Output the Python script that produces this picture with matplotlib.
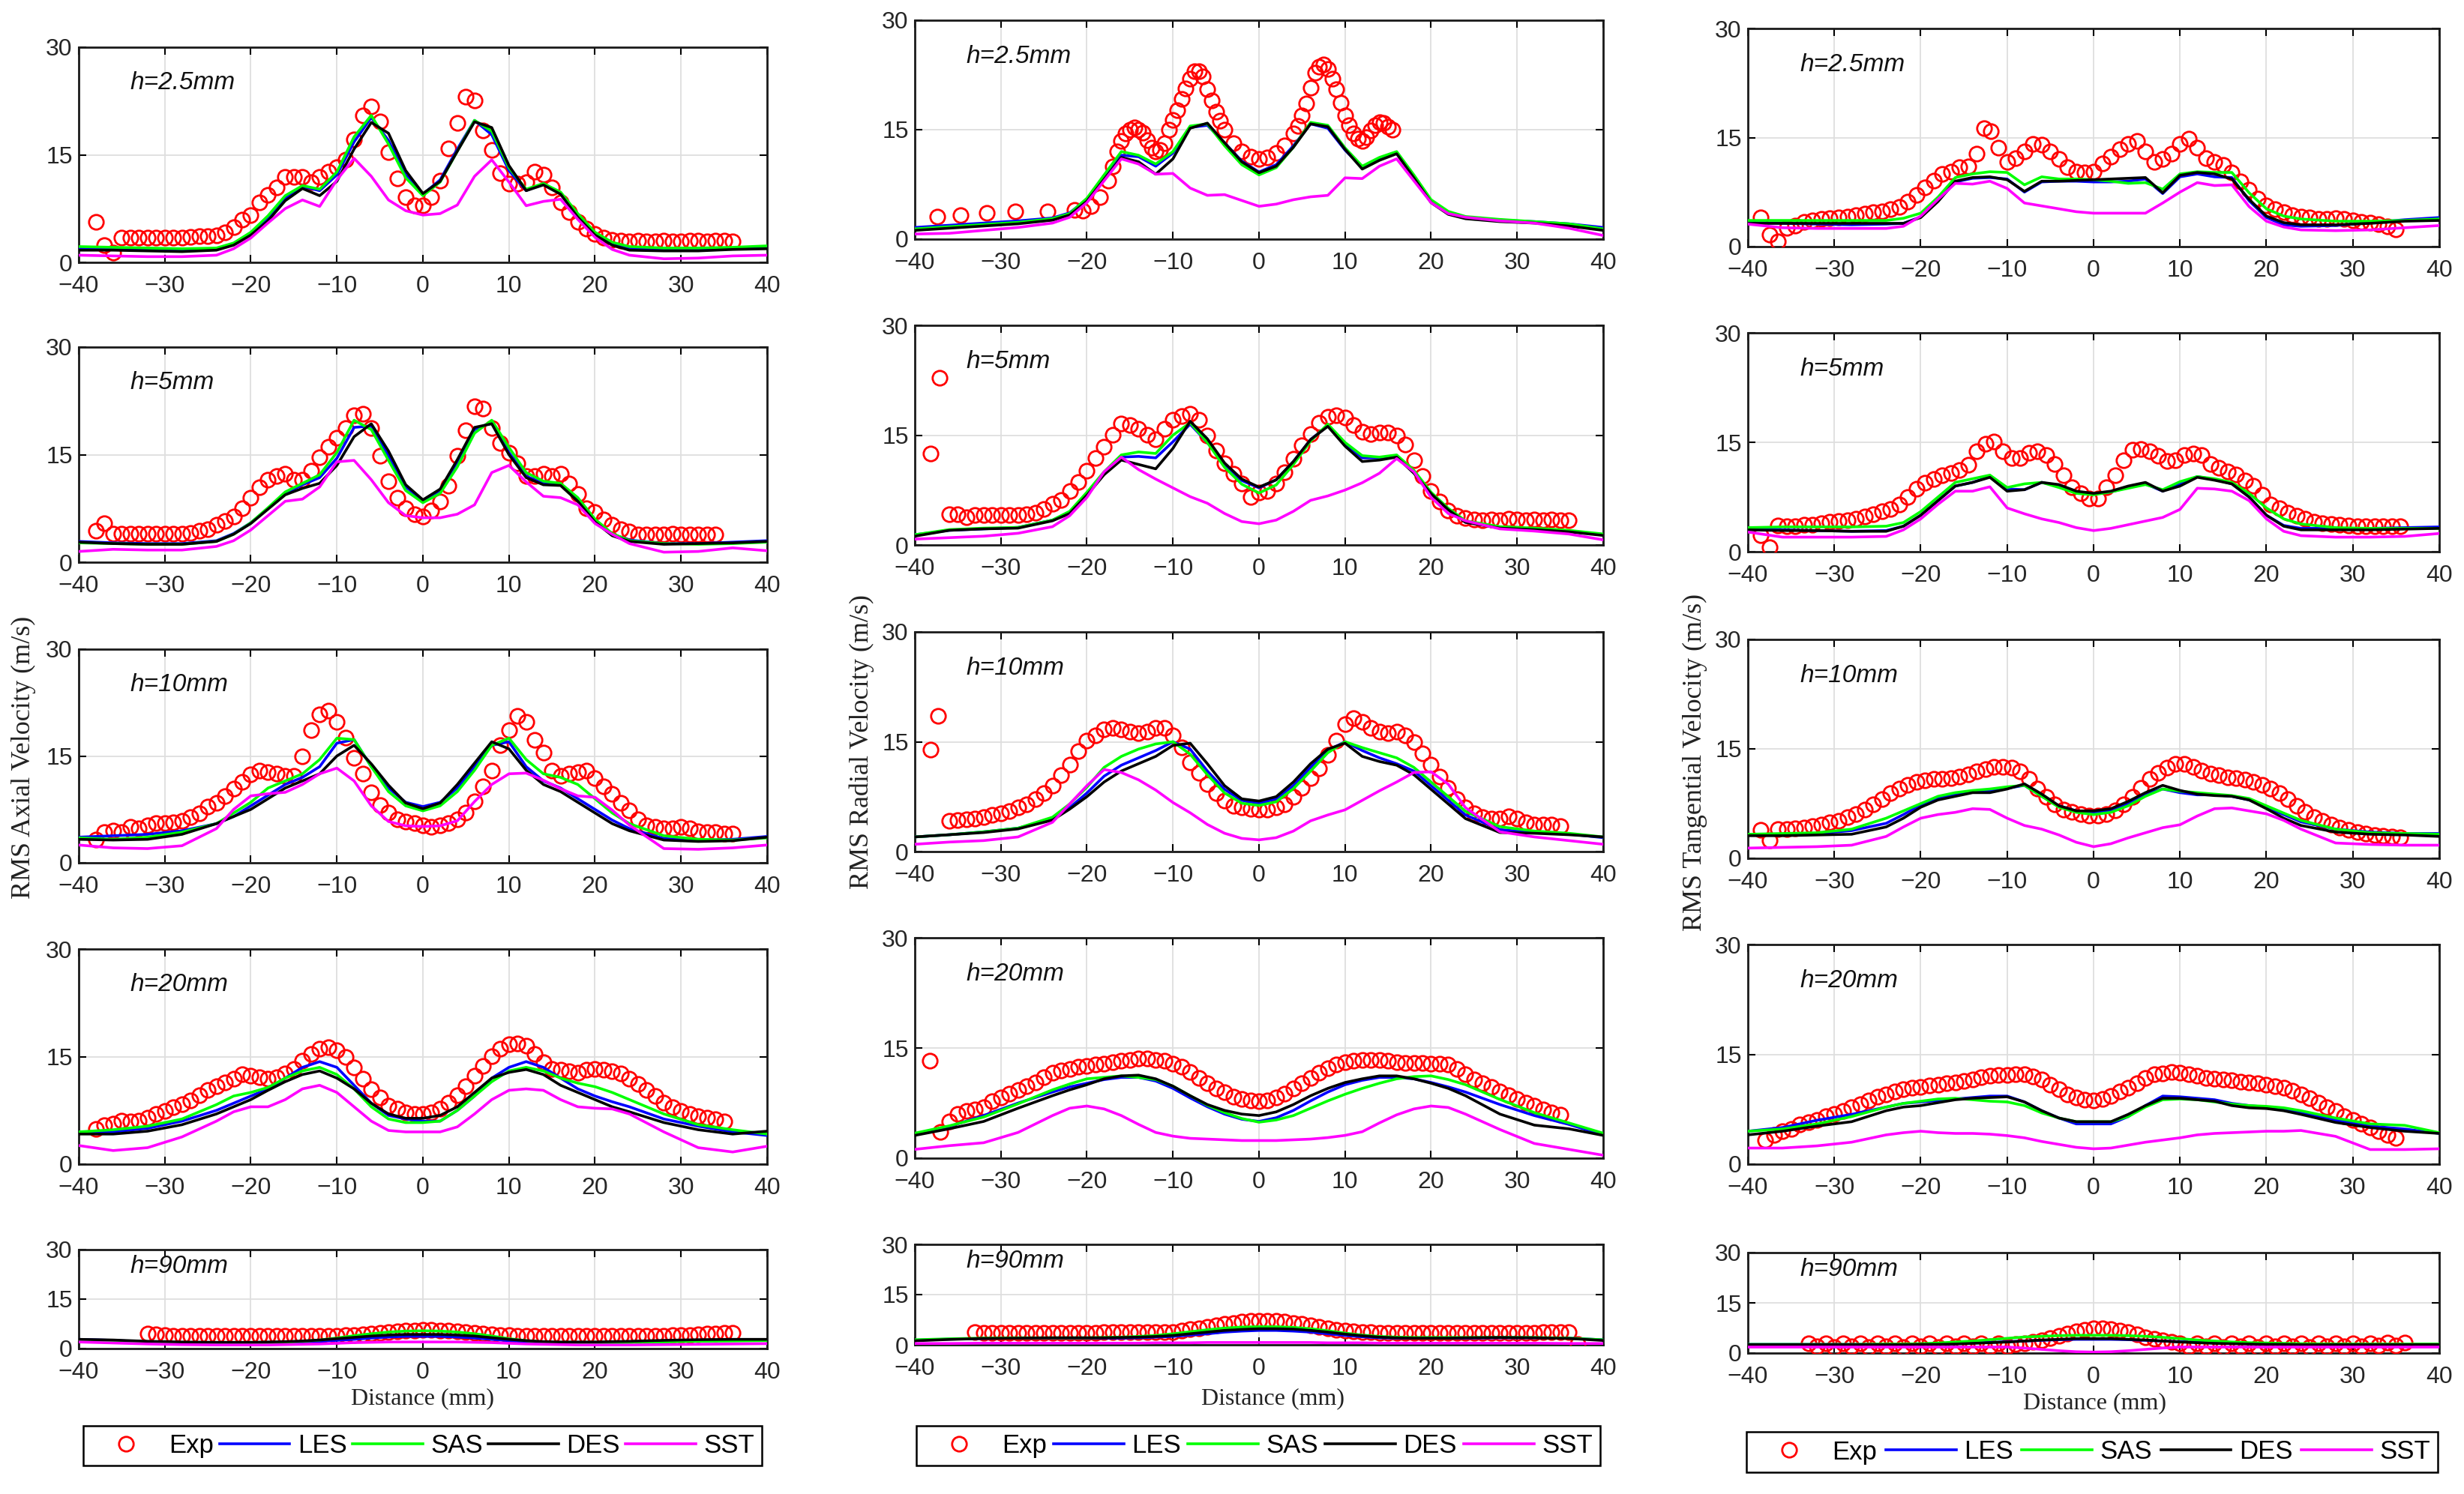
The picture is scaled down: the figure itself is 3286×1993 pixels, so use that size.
import numpy as np
import matplotlib
matplotlib.use('Agg')
import matplotlib.pyplot as plt
from matplotlib.lines import Line2D

plt.rcParams['font.family'] = ['Liberation Sans Narrow', 'Liberation Sans', 'DejaVu Sans']
SERIF = ['Liberation Serif', 'DejaVu Serif']

# x positions of the simulation curves (mm)
x_sim = [-40, -36, -32, -28, -24, -22, -20, -18, -16, -14, -12, -10, -8, -6, -4, -2, 0,
         2, 4, 6, 8, 10, 12, 14, 16, 18, 20, 22, 24, 28, 32, 36, 40]

# ---------------- RMS axial velocity ----------------
ax25_exp_x = np.arange(-38, 37)
ax25_exp = [5.6, 2.4, 1.4, 3.4, 3.5, 3.5, 3.5, 3.5, 3.5, 3.5,
            3.5, 3.6, 3.7, 3.7, 3.8, 4.2, 4.9, 6.0, 6.6, 8.4,
            9.4, 10.5, 11.9, 11.9, 11.9, 11.2, 11.9, 12.6, 13.3, 14.3,
            17.1, 20.5, 21.7, 19.6, 15.4, 11.7, 9.1, 7.9, 7.9, 9.1,
            11.4, 15.9, 19.4, 23.1, 22.6, 18.4, 15.7, 12.4, 11.0, 11.0,
            11.2, 12.6, 12.2, 10.5, 8.4, 7.0, 5.6, 4.7, 4.0, 3.5,
            3.1, 3.0, 2.9, 3.0, 2.9, 2.9, 3.0, 2.9, 2.9, 3.0,
            3.0, 2.9, 3.0, 3.0, 2.9]
ax25_les = [2.0, 1.9, 1.8, 1.7, 1.9, 2.6, 4.0, 6.2, 9.0, 10.6, 10.0, 12.2, 16.8, 20.2, 17.0, 12.2, 9.5,
            11.5, 15.8, 19.8, 17.8, 12.8, 10.0, 11.0, 9.6, 6.5, 4.0, 2.6, 2.0, 1.8, 1.9, 2.0, 2.2]
ax25_sas = [2.2, 2.1, 2.0, 1.9, 2.0, 2.7, 4.2, 6.5, 9.3, 10.7, 10.2, 12.6, 17.5, 20.5, 16.5, 11.8, 9.3,
            11.2, 15.5, 19.8, 18.3, 13.2, 10.2, 11.0, 9.8, 6.8, 4.2, 2.8, 2.2, 2.0, 2.0, 2.1, 2.3]
ax25_des = [1.7, 1.7, 1.6, 1.5, 1.7, 2.4, 3.8, 5.8, 8.6, 10.3, 9.3, 11.3, 15.8, 19.5, 18.0, 12.8, 9.6,
            11.3, 15.5, 19.6, 18.8, 13.5, 10.0, 10.8, 9.5, 6.3, 3.8, 2.4, 1.7, 1.6, 1.6, 1.8, 1.9]
ax25_sst = [1.0, 0.9, 0.8, 0.8, 1.0, 1.9, 3.4, 5.5, 7.5, 8.7, 7.8, 11.5, 14.5, 12.0, 8.7, 7.2, 6.6,
            6.8, 8.0, 12.0, 14.3, 11.2, 7.9, 8.5, 8.8, 6.0, 3.5, 1.8, 1.0, 0.5, 0.6, 0.9, 1.0]

ax5_exp_x = np.arange(-38, 35)
ax5_exp = [4.4, 5.4, 4.0, 4.0, 4.0, 4.0, 4.0, 4.0, 4.0, 4.0,
           4.0, 4.1, 4.4, 4.6, 5.2, 5.7, 6.4, 7.5, 9.0, 10.5,
           11.5, 12.0, 12.3, 11.5, 11.5, 12.8, 14.6, 16.1, 17.4, 18.7,
           20.5, 20.7, 18.7, 14.8, 11.3, 9.0, 7.5, 6.7, 6.4, 7.2,
           8.5, 10.7, 14.8, 18.4, 21.7, 21.4, 18.7, 16.6, 15.3, 13.8,
           12.0, 12.0, 12.3, 12.0, 12.3, 11.0, 9.5, 7.5, 7.0, 6.0,
           5.2, 4.6, 4.3, 3.9, 3.9, 3.9, 3.9, 4.0, 3.9, 3.9,
           3.9, 3.9, 3.9]
ax5_les = [2.9, 2.7, 2.6, 2.6, 3.0, 4.0, 5.5, 7.5, 9.6, 10.8, 11.8, 14.5, 18.8, 19.0, 14.8, 10.5, 8.6,
           10.0, 14.0, 18.5, 19.5, 15.3, 12.0, 11.0, 10.8, 8.8, 5.8, 3.9, 3.1, 2.6, 2.6, 2.8, 3.0]
ax5_sas = [2.7, 2.6, 2.5, 2.5, 2.9, 3.9, 5.5, 7.6, 9.8, 11.0, 12.2, 15.3, 19.8, 18.5, 14.2, 10.0, 8.3,
           9.6, 13.3, 18.0, 19.8, 16.0, 12.5, 11.3, 11.0, 9.0, 6.0, 4.0, 3.0, 2.6, 2.5, 2.6, 2.8]
ax5_des = [2.8, 2.6, 2.5, 2.5, 2.9, 3.9, 5.4, 7.4, 9.4, 10.3, 11.0, 13.5, 17.5, 19.3, 15.5, 10.8, 8.7,
           10.2, 14.3, 18.8, 19.3, 15.0, 11.8, 10.8, 10.7, 8.5, 5.6, 3.7, 2.9, 2.5, 2.6, 2.7, 2.9]
ax5_sst = [1.5, 1.8, 1.7, 1.7, 2.2, 3.0, 4.5, 6.5, 8.5, 8.8, 10.5, 14.0, 14.2, 11.5, 8.3, 6.5, 6.2,
           6.2, 6.7, 8.0, 12.5, 13.5, 11.2, 9.2, 9.0, 8.0, 5.4, 3.9, 2.6, 1.4, 1.5, 2.0, 1.6]

ax10_exp_x = np.arange(-38, 37)
ax10_exp = [3.3, 4.3, 4.5, 4.3, 5.1, 4.8, 5.3, 5.6, 5.6, 5.7,
            5.9, 6.4, 6.9, 7.9, 8.4, 9.4, 10.4, 11.4, 12.4, 12.9,
            12.7, 12.5, 12.2, 12.2, 15.0, 18.6, 20.8, 21.4, 19.8, 17.6,
            14.7, 12.5, 9.9, 8.1, 7.1, 6.1, 5.8, 5.6, 5.3, 5.1,
            5.3, 5.6, 6.1, 7.1, 8.6, 10.7, 12.9, 16.5, 18.6, 20.6,
            19.8, 17.3, 15.5, 12.9, 12.2, 12.5, 12.7, 12.9, 11.9, 10.7,
            9.7, 8.4, 7.4, 6.1, 5.3, 5.1, 4.8, 4.8, 5.1, 4.8,
            4.4, 4.3, 4.3, 4.1, 4.1]
ax10_les = [3.6, 3.8, 4.0, 4.5, 5.5, 6.5, 8.0, 9.5, 11.0, 12.0, 13.5, 16.8, 17.3, 13.5, 10.5, 8.5, 7.9,
            8.5, 10.5, 13.5, 16.5, 17.0, 13.5, 11.5, 10.5, 9.0, 7.5, 6.0, 4.8, 3.4, 3.2, 3.3, 3.7]
ax10_sas = [3.5, 3.3, 3.6, 4.3, 5.5, 7.0, 8.5, 10.5, 11.5, 12.5, 14.5, 17.5, 17.3, 13.5, 10.0, 8.0, 7.3,
            8.0, 10.0, 13.0, 16.5, 17.5, 14.5, 12.5, 12.0, 11.0, 9.0, 7.0, 5.5, 3.8, 3.3, 3.2, 3.5]
ax10_des = [3.3, 3.2, 3.3, 4.0, 5.5, 6.5, 7.5, 9.0, 10.5, 11.5, 12.5, 15.0, 16.5, 13.9, 10.9, 8.4, 7.6,
            8.4, 11.0, 14.0, 17.0, 16.0, 13.0, 11.0, 10.0, 8.5, 7.0, 5.5, 4.5, 3.2, 3.0, 3.1, 3.6]
ax10_sst = [2.5, 2.1, 2.0, 2.4, 4.8, 7.5, 9.4, 9.7, 9.9, 11.0, 12.5, 13.3, 11.5, 8.0, 5.8, 5.2, 5.1,
            5.2, 5.9, 8.6, 11.0, 12.5, 12.6, 11.6, 10.4, 9.4, 9.2, 7.4, 5.3, 2.0, 1.9, 2.1, 2.5]

ax20_exp_x = np.arange(-38, 36)
ax20_exp = [4.9, 5.4, 5.6, 6.1, 6.0, 6.1, 6.5, 7.0, 7.4, 7.9,
            8.4, 8.9, 9.6, 10.4, 10.9, 11.4, 11.9, 12.5, 12.3, 12.1,
            11.9, 12.1, 12.6, 13.3, 14.4, 15.4, 16.1, 16.3, 15.9, 14.9,
            13.5, 11.9, 10.5, 9.3, 8.2, 7.7, 7.2, 7.0, 7.0, 7.2,
            7.7, 8.6, 9.6, 10.9, 12.3, 13.7, 15.1, 16.1, 16.7, 16.8,
            16.5, 15.4, 14.2, 13.3, 13.2, 13.0, 12.8, 13.2, 13.3, 13.2,
            13.0, 12.6, 11.9, 11.2, 10.4, 9.5, 8.6, 7.9, 7.4, 7.0,
            6.7, 6.5, 6.3, 6.0]
ax20_les = [4.5, 4.5, 5.0, 6.0, 7.5, 8.5, 9.5, 10.5, 12.0, 13.5, 14.3, 13.5, 11.0, 8.5, 6.8, 6.3, 6.0,
            6.0, 7.5, 9.5, 12.0, 13.5, 14.3, 13.5, 12.0, 10.5, 9.5, 8.7, 8.0, 6.3, 5.3, 4.5, 4.0]
ax20_sas = [4.5, 4.8, 5.3, 6.3, 8.3, 9.5, 10.0, 10.7, 12.0, 13.0, 13.5, 12.5, 10.5, 8.0, 6.3, 5.8, 5.8,
            6.0, 7.5, 9.5, 11.5, 13.0, 13.5, 13.0, 12.0, 11.3, 10.8, 10.0, 9.0, 7.0, 5.5, 4.8, 4.2]
ax20_des = [4.2, 4.2, 4.6, 5.5, 7.0, 8.0, 9.0, 10.3, 11.5, 12.5, 13.0, 12.0, 10.5, 8.5, 7.0, 6.4, 6.4,
            6.8, 8.0, 10.0, 12.0, 12.8, 13.2, 12.5, 11.0, 10.0, 9.0, 8.0, 7.3, 5.8, 4.8, 4.2, 4.6]
ax20_sst = [2.6, 1.9, 2.3, 3.8, 6.0, 7.3, 8.0, 8.0, 9.0, 10.5, 11.0, 10.0, 8.0, 6.0, 4.7, 4.5, 4.5,
            4.5, 5.2, 7.0, 9.0, 10.3, 10.5, 10.3, 9.0, 8.0, 7.8, 7.7, 7.0, 4.5, 2.3, 1.7, 2.5]

ax90_exp_x = np.arange(-32, 37)
ax90_exp = [4.5, 4.3, 4.0, 3.8, 3.8, 3.8, 3.8, 3.8, 3.8, 3.8,
            3.8, 3.8, 3.8, 3.8, 3.8, 3.8, 3.8, 3.8, 3.8, 3.8,
            3.8, 3.8, 3.9, 4.0, 4.2, 4.3, 4.5, 4.8, 5.0, 5.2,
            5.4, 5.5, 5.6, 5.6, 5.5, 5.4, 5.2, 5.0, 4.8, 4.5,
            4.3, 4.1, 4.0, 3.8, 3.8, 3.8, 3.8, 3.8, 3.8, 3.8,
            3.8, 3.8, 3.8, 3.8, 3.8, 3.8, 3.8, 3.8, 3.8, 3.8,
            3.9, 4.0, 4.1, 4.2, 4.3, 4.5, 4.6, 4.7, 4.7]
ax90_les = [2.8, 2.5, 2.0, 1.8, 1.7, 1.7, 1.7, 1.8, 1.9, 2.0, 2.2, 2.5, 2.8, 3.2, 3.5, 3.7, 3.7,
            3.7, 3.5, 3.2, 2.8, 2.4, 2.1, 1.9, 1.8, 1.8, 1.8, 1.9, 2.0, 2.2, 2.4, 2.5, 2.5]
ax90_sas = [2.6, 2.4, 2.1, 1.8, 1.6, 1.6, 1.6, 1.7, 1.9, 2.2, 2.6, 3.2, 3.9, 4.5, 5.0, 5.3, 5.4,
            5.3, 5.0, 4.5, 3.8, 3.0, 2.4, 2.0, 1.7, 1.6, 1.6, 1.7, 1.8, 2.0, 2.2, 2.3, 2.4]
ax90_des = [2.8, 2.6, 2.2, 2.0, 1.9, 1.9, 1.9, 2.0, 2.1, 2.3, 2.6, 3.0, 3.4, 3.8, 4.1, 4.3, 4.3,
            4.3, 4.1, 3.8, 3.3, 2.8, 2.4, 2.1, 2.0, 2.0, 2.0, 2.1, 2.2, 2.5, 2.7, 2.8, 2.8]
ax90_sst = [2.0, 1.7, 1.4, 1.2, 1.1, 1.1, 1.1, 1.1, 1.2, 1.3, 1.4, 1.6, 1.8, 1.9, 2.0, 2.0, 2.0,
            2.0, 2.0, 1.9, 1.8, 1.6, 1.4, 1.3, 1.2, 1.1, 1.1, 1.1, 1.1, 1.2, 1.3, 1.4, 1.5]

# ---------------- RMS radial velocity ----------------
ra25_exp_x = [-37.4, -34.7, -31.6, -28.3, -24.6, -21.4, -20.5, -19.5, -18.5, -17.5,
              -17, -16.5, -16, -15.5, -15, -14.5, -14, -13.5, -13, -12.5,
              -12, -11.5, -11, -10.5, -10, -9.5, -9, -8.5, -8, -7.5,
              -7, -6.5, -6, -5.5, -5, -4.5, -4, -3, -2, -1,
              0, 1, 2, 3, 4, 4.5, 5, 5.5, 6, 6.5,
              7, 7.5, 8, 8.5, 9, 9.5, 10, 10.5, 11, 11.5,
              12, 12.5, 13, 13.5, 14, 14.5, 15, 15.5]
ra25_exp = [3.1, 3.3, 3.6, 3.8, 3.8, 4.0, 3.9, 4.5, 5.8, 8.0,
            10.0, 12.0, 13.5, 14.5, 15.0, 15.3, 15.0, 14.6, 13.6, 12.5,
            12.0, 12.2, 13.2, 15.0, 16.3, 17.7, 19.2, 20.7, 22.0, 23.0,
            23.0, 22.3, 20.5, 19.0, 17.5, 16.2, 15.0, 13.2, 12.0, 11.3,
            11.0, 11.2, 11.8, 12.8, 14.5, 15.5, 17.0, 18.6, 20.8, 22.8,
            23.6, 23.9, 23.3, 22.0, 20.5, 18.7, 17.0, 15.6, 14.5, 13.8,
            13.5, 14.0, 14.9, 15.6, 16.0, 15.9, 15.4, 15.0]
ra25_les = [1.6, 1.9, 2.2, 2.5, 2.9, 3.6, 5.5, 8.5, 11.5, 11.3, 10.0, 11.8, 15.3, 15.6, 13.2, 10.7, 9.2,
            10.2, 12.8, 15.8, 15.2, 12.2, 9.8, 11.0, 11.8, 8.6, 5.2, 3.6, 3.0, 2.6, 2.4, 2.1, 1.6]
ra25_sas = [1.4, 1.7, 2.0, 2.3, 2.8, 3.5, 5.6, 8.8, 12.0, 11.5, 10.3, 12.0, 15.5, 15.8, 12.8, 10.2, 8.8,
            9.8, 12.6, 16.0, 15.6, 12.5, 10.0, 11.2, 12.0, 8.8, 5.4, 3.8, 3.1, 2.7, 2.4, 2.1, 1.4]
ra25_des = [1.2, 1.5, 1.8, 2.1, 2.6, 3.3, 5.2, 8.2, 11.2, 10.6, 8.9, 11.0, 15.2, 15.9, 13.2, 10.6, 9.1,
            10.0, 12.6, 15.8, 15.4, 12.3, 9.6, 10.8, 11.7, 8.4, 5.0, 3.4, 2.8, 2.4, 2.2, 1.8, 1.2]
ra25_sst = [0.7, 0.8, 1.2, 1.6, 2.2, 3.0, 5.0, 8.0, 11.0, 10.3, 8.9, 9.0, 7.0, 6.0, 6.1, 5.3, 4.5,
            4.8, 5.4, 5.8, 6.0, 8.4, 8.3, 10.0, 11.0, 8.0, 5.0, 3.5, 3.0, 2.5, 2.2, 1.5, 0.5]

ra5_exp_x = [-38.2, -37.1] + list(range(-36, 37))
ra5_exp = [12.5, 22.8,
           4.2, 4.2, 3.8, 4.1, 4.1, 4.1, 4.1, 4.1, 4.1, 4.2,
           4.4, 4.9, 5.6, 6.1, 7.4, 8.6, 10.1, 11.9, 13.4, 15.1,
           16.6, 16.4, 15.9, 15.1, 14.4, 15.9, 17.1, 17.6, 17.9, 17.1,
           14.9, 12.9, 11.2, 9.7, 8.4, 6.6, 7.2, 7.4, 8.4, 9.9,
           11.8, 13.6, 15.2, 16.7, 17.5, 17.7, 17.4, 16.4, 15.5, 15.2,
           15.4, 15.4, 14.9, 13.7, 11.6, 9.4, 7.4, 5.9, 4.7, 4.0,
           3.7, 3.5, 3.4, 3.5, 3.4, 3.6, 3.5, 3.4, 3.5, 3.4,
           3.5, 3.4, 3.4]
ra5_les = [1.4, 2.0, 2.2, 2.4, 3.4, 4.5, 7.0, 9.8, 12.0, 12.1, 11.9, 14.1, 16.5, 14.0, 11.0, 8.8, 7.8,
           8.9, 11.4, 14.4, 16.3, 13.9, 11.9, 11.9, 12.1, 9.9, 7.1, 4.9, 3.1, 2.4, 2.2, 1.9, 1.4]
ra5_sas = [1.4, 2.1, 2.3, 2.4, 3.4, 4.6, 7.2, 10.0, 12.3, 12.7, 12.5, 15.0, 16.7, 14.0, 10.6, 8.3, 7.1,
           8.2, 11.0, 14.2, 16.5, 14.0, 12.2, 12.0, 12.3, 10.2, 7.2, 5.0, 3.3, 2.5, 2.3, 2.0, 1.5]
ra5_des = [1.2, 2.0, 2.2, 2.3, 3.3, 4.3, 6.8, 9.6, 11.6, 11.0, 10.4, 13.2, 16.9, 14.5, 11.2, 9.0, 7.9,
           8.9, 11.4, 14.4, 16.2, 13.5, 11.4, 11.6, 12.0, 9.8, 7.0, 4.8, 3.1, 2.3, 2.1, 1.8, 1.3]
ra5_sst = [0.8, 1.0, 1.2, 1.6, 2.5, 4.0, 6.5, 10.0, 12.0, 10.3, 9.0, 7.8, 6.6, 5.7, 4.3, 3.2, 2.9,
           3.4, 4.6, 6.1, 6.7, 7.5, 8.5, 9.8, 11.8, 10.0, 6.5, 4.3, 3.3, 2.2, 1.9, 1.5, 0.7]

ra10_exp_x = [-38.2, -37.3] + list(range(-36, 36))
ra10_exp = [13.9, 18.5,
            4.2, 4.3, 4.4, 4.5, 4.7, 5.0, 5.2, 5.5, 6.0, 6.5,
            7.2, 8.0, 9.0, 10.4, 11.9, 13.7, 15.2, 15.9, 16.7, 16.9,
            16.7, 16.4, 16.2, 16.4, 16.9, 16.9, 15.9, 14.2, 12.2, 10.7,
            9.2, 8.0, 7.0, 6.2, 6.0, 5.8, 5.7, 5.7, 6.0, 6.5,
            7.5, 8.7, 10.0, 11.4, 13.2, 15.2, 17.4, 18.2, 17.7, 16.9,
            16.4, 16.2, 16.4, 15.9, 14.9, 13.4, 11.9, 10.2, 8.7, 7.2,
            6.0, 5.2, 4.7, 4.5, 4.5, 4.8, 4.5, 4.0, 3.7, 3.7,
            3.7, 3.5]
ra10_les = [2.0, 2.3, 2.7, 3.2, 4.5, 6.0, 8.0, 10.3, 11.8, 12.8, 13.8, 15.0, 14.0, 11.0, 8.5, 7.0, 6.6,
            7.2, 9.0, 11.5, 13.8, 15.0, 13.8, 12.8, 12.0, 11.0, 9.0, 7.0, 5.0, 3.0, 2.6, 2.4, 1.9]
ra10_sas = [2.0, 2.3, 2.7, 3.2, 4.7, 6.5, 8.8, 11.5, 13.0, 14.0, 14.7, 15.0, 13.3, 10.5, 8.0, 6.6, 6.3,
            6.8, 8.6, 11.0, 13.5, 15.0, 14.2, 13.5, 12.8, 11.5, 9.5, 7.5, 5.5, 3.4, 2.8, 2.5, 2.0]
ra10_des = [2.0, 2.3, 2.6, 3.1, 4.3, 5.8, 7.5, 9.5, 11.0, 12.0, 13.0, 14.5, 14.8, 12.0, 9.0, 7.2, 6.9,
            7.5, 9.5, 12.0, 14.0, 14.8, 13.0, 12.3, 11.8, 10.5, 8.5, 6.5, 4.5, 2.6, 2.5, 2.3, 2.0]
ra10_sst = [1.0, 1.3, 1.5, 2.0, 4.0, 6.5, 9.0, 11.2, 10.8, 9.8, 8.4, 6.7, 5.3, 3.7, 2.5, 1.8, 1.6,
            1.9, 2.8, 4.2, 5.0, 5.7, 7.0, 8.3, 9.5, 10.8, 10.9, 9.2, 6.0, 2.7, 2.0, 1.5, 1.0]

ra20_exp_x = [-38.3] + list(range(-37, 36))
ra20_exp = [13.3,
            3.6, 5.0, 6.0, 6.4, 6.6, 6.9, 7.8, 8.3, 8.8, 9.3,
            9.8, 10.3, 11.0, 11.6, 11.9, 12.1, 12.4, 12.6, 12.8, 12.9,
            13.1, 13.3, 13.4, 13.6, 13.6, 13.4, 13.3, 12.9, 12.4, 11.7,
            10.9, 10.2, 9.5, 9.0, 8.4, 8.1, 7.9, 7.8, 7.9, 8.3,
            8.8, 9.5, 10.2, 10.9, 11.6, 12.2, 12.8, 13.1, 13.3, 13.4,
            13.4, 13.4, 13.3, 13.1, 13.0, 13.0, 13.0, 12.9, 12.9, 12.8,
            12.1, 11.4, 10.7, 10.2, 9.7, 9.1, 8.6, 8.1, 7.6, 7.1,
            6.6, 6.2, 5.9]
ra20_les = [3.2, 4.3, 5.8, 7.5, 9.0, 9.7, 10.2, 10.7, 11.0, 11.0, 10.5, 9.5, 8.2, 7.0, 6.0, 5.3, 5.0,
            5.5, 6.5, 7.8, 9.0, 10.0, 10.6, 11.0, 11.0, 10.8, 10.3, 9.7, 9.0, 7.3, 5.8, 4.6, 3.2]
ra20_sas = [3.4, 4.4, 5.6, 7.4, 9.3, 10.1, 10.8, 11.0, 11.2, 11.0, 10.7, 9.8, 8.5, 7.2, 6.2, 5.4, 4.9,
            5.2, 5.8, 6.8, 7.8, 8.7, 9.5, 10.2, 10.8, 11.1, 11.2, 10.7, 10.0, 8.0, 6.2, 4.8, 3.4]
ra20_des = [3.1, 4.0, 5.0, 6.8, 8.5, 9.3, 10.0, 10.8, 11.2, 11.3, 10.8, 9.8, 8.5, 7.3, 6.5, 6.0, 5.8,
            6.3, 7.3, 8.5, 9.5, 10.3, 10.8, 11.2, 11.2, 10.8, 10.2, 9.5, 8.5, 6.0, 4.5, 4.0, 3.1]
ra20_sst = [1.2, 1.7, 2.1, 3.5, 5.8, 6.8, 7.1, 6.7, 5.8, 4.6, 3.5, 3.0, 2.7, 2.6, 2.5, 2.4, 2.4,
            2.4, 2.5, 2.6, 2.8, 3.1, 3.6, 4.8, 5.9, 6.7, 7.1, 6.9, 6.0, 3.9, 2.0, 1.2, 0.4]

ra90_exp_x = list(range(-33, 37)) + [37]
ra90_exp = [3.8, 3.6, 3.6, 3.6, 3.6, 3.6, 3.6, 3.6, 3.6, 3.6,
            3.6, 3.6, 3.6, 3.6, 3.6, 3.7, 3.7, 3.7, 3.8, 3.8,
            3.8, 3.8, 3.8, 3.9, 4.2, 4.6, 5.0, 5.4, 5.8, 6.2,
            6.6, 6.9, 7.1, 7.2, 7.2, 7.1, 6.9, 6.6, 6.2, 5.8,
            5.3, 4.9, 4.5, 4.2, 4.0, 3.8, 3.7, 3.6, 3.6, 3.6,
            3.6, 3.6, 3.6, 3.6, 3.6, 3.6, 3.6, 3.6, 3.6, 3.6,
            3.6, 3.6, 3.6, 3.6, 3.6, 3.6, 3.7, 3.7, 3.7, 3.7,
            0.3]
ra90_les = [1.4, 1.7, 1.9, 2.0, 2.0, 2.0, 2.0, 2.0, 2.0, 2.1, 2.3, 2.5, 2.9, 3.3, 3.8, 4.1, 4.3,
            4.3, 4.1, 3.8, 3.3, 2.8, 2.4, 2.1, 2.0, 2.0, 2.0, 2.0, 2.0, 2.1, 2.1, 2.0, 1.5]
ra90_sas = [1.5, 1.8, 2.0, 2.1, 2.1, 2.1, 2.1, 2.2, 2.3, 2.5, 2.8, 3.3, 3.9, 4.5, 5.0, 5.3, 5.4,
            5.4, 5.2, 4.8, 4.2, 3.5, 2.9, 2.5, 2.3, 2.2, 2.2, 2.2, 2.2, 2.2, 2.2, 2.0, 1.5]
ra90_des = [1.2, 1.6, 1.9, 2.0, 2.1, 2.1, 2.1, 2.1, 2.2, 2.3, 2.5, 2.8, 3.3, 3.8, 4.3, 4.6, 4.8,
            4.8, 4.7, 4.3, 3.8, 3.2, 2.7, 2.3, 2.1, 2.0, 2.0, 2.0, 2.1, 2.2, 2.1, 1.9, 1.3]
ra90_sst = [0.4, 0.4, 0.5, 0.5, 0.5, 0.5, 0.5, 0.5, 0.5, 0.5, 0.6, 0.6, 0.6, 0.7, 0.7, 0.7, 0.7,
            0.7, 0.7, 0.7, 0.6, 0.6, 0.6, 0.5, 0.5, 0.5, 0.5, 0.5, 0.5, 0.5, 0.5, 0.4, 0.4]

# ---------------- RMS tangential velocity ----------------
ta25_exp_x = list(np.arange(-38.5, -13.0)) + [-12.7, -11.9] + list(range(-11, 36))
ta25_exp = [4.0, 1.7, 0.7, 2.6, 2.9, 3.4, 3.6, 3.8, 3.9, 4.0,
            4.1, 4.3, 4.5, 4.7, 4.8, 5.2, 5.5, 6.2, 7.1, 8.1,
            9.1, 10.0, 10.3, 10.9, 11.0, 12.8,
            16.3, 15.9,
            13.6, 11.7, 12.2, 13.1, 14.1, 14.0, 13.1, 12.1, 10.9, 10.3,
            10.2, 10.3, 11.4, 12.4, 13.4, 14.1, 14.5, 13.1, 11.7, 12.1,
            12.8, 14.1, 14.8, 13.6, 12.2, 11.7, 11.2, 10.2, 9.0, 7.8,
            6.6, 5.7, 5.2, 4.7, 4.3, 4.1, 4.0, 3.8, 3.8, 3.9,
            3.8, 3.6, 3.4, 3.3, 3.1, 2.8, 2.4]
ta25_les = [3.3, 3.2, 3.1, 3.0, 3.1, 3.2, 4.1, 6.3, 8.9, 9.4, 9.5, 9.3, 7.5, 8.9, 9.0, 9.0, 8.9,
            8.9, 9.0, 9.3, 7.3, 9.6, 10.0, 9.6, 9.5, 6.3, 4.0, 3.0, 2.8, 2.9, 3.3, 3.7, 4.0]
ta25_sas = [3.6, 3.6, 3.6, 3.6, 3.6, 3.9, 4.6, 6.8, 9.5, 10.0, 10.3, 10.2, 8.5, 9.6, 9.3, 9.3, 9.2,
            9.0, 8.7, 8.8, 7.9, 10.0, 10.3, 10.2, 10.2, 7.4, 5.2, 4.2, 3.8, 3.5, 3.5, 3.6, 3.8]
ta25_des = [3.2, 3.2, 3.2, 3.2, 3.2, 3.2, 4.0, 6.2, 9.0, 9.5, 9.6, 9.2, 7.6, 9.0, 9.0, 9.1, 9.2,
            9.3, 9.4, 9.5, 7.4, 9.8, 10.2, 10.0, 9.3, 6.5, 4.2, 3.3, 3.0, 3.0, 3.2, 3.5, 3.6]
ta25_sst = [3.1, 2.6, 2.5, 2.5, 2.5, 2.8, 4.2, 6.5, 8.7, 8.6, 9.0, 8.0, 6.0, 5.6, 5.2, 4.8, 4.6,
            4.6, 4.6, 4.6, 6.0, 7.5, 8.8, 8.4, 8.5, 5.5, 3.5, 2.7, 2.3, 2.2, 2.3, 2.6, 2.9]

ta5_exp_x = np.arange(-38.5, 36)
ta5_exp = [2.3, 0.6, 3.6, 3.5, 3.5, 3.7, 3.7, 3.9, 4.1, 4.2,
           4.3, 4.5, 4.8, 5.1, 5.5, 5.9, 6.5, 7.5, 8.6, 9.5,
           10.0, 10.5, 10.8, 11.2, 11.9, 13.8, 14.8, 15.1, 13.8, 12.8,
           12.8, 13.6, 13.8, 13.3, 12.0, 10.5, 8.8, 8.0, 7.3, 7.3,
           8.8, 10.5, 12.5, 14.0, 14.1, 13.8, 13.1, 12.4, 12.5, 13.3,
           13.5, 13.3, 12.0, 11.5, 11.0, 10.6, 9.8, 9.0, 7.8, 6.5,
           6.0, 5.3, 4.9, 4.5, 4.1, 3.9, 3.8, 3.7, 3.6, 3.5,
           3.5, 3.5, 3.5, 3.5, 3.5]
ta5_les = [3.3, 3.0, 2.9, 2.8, 2.9, 3.5, 5.0, 7.0, 9.0, 9.5, 10.3, 8.6, 8.5, 9.5, 9.0, 8.2, 7.9,
           8.2, 8.8, 9.3, 8.3, 9.3, 10.3, 9.9, 9.3, 7.5, 5.0, 3.6, 3.2, 3.2, 3.2, 3.3, 3.4]
ta5_sas = [3.3, 3.4, 3.4, 3.4, 3.5, 4.0, 5.5, 7.5, 9.5, 10.0, 10.5, 8.8, 9.3, 9.5, 8.8, 8.0, 7.8,
           8.2, 8.7, 9.2, 8.5, 9.6, 10.3, 10.0, 9.5, 8.0, 6.0, 4.5, 3.8, 3.3, 3.2, 3.2, 3.2]
ta5_des = [3.0, 2.9, 2.9, 2.8, 2.8, 3.5, 5.0, 7.0, 9.0, 9.5, 10.2, 8.3, 8.5, 9.5, 9.2, 8.3, 8.0,
           8.3, 9.0, 9.5, 8.3, 9.0, 10.2, 9.8, 9.3, 7.5, 5.0, 3.5, 3.0, 3.0, 3.0, 3.1, 3.2]
ta5_sst = [2.7, 2.0, 2.0, 2.0, 2.1, 3.0, 4.5, 6.5, 8.3, 8.3, 8.9, 6.0, 5.2, 4.5, 4.0, 3.3, 2.9,
           3.2, 3.7, 4.2, 4.7, 5.8, 8.7, 8.6, 8.3, 7.0, 4.5, 2.8, 2.2, 2.0, 2.0, 2.1, 2.5]

ta10_exp_x = np.arange(-38.5, 36)
ta10_exp = [3.9, 2.5, 4.0, 4.0, 4.1, 4.2, 4.4, 4.6, 4.9, 5.1,
            5.6, 6.1, 6.7, 7.4, 8.1, 8.9, 9.6, 10.1, 10.5, 10.7,
            10.9, 10.9, 11.0, 11.2, 11.5, 11.9, 12.2, 12.5, 12.5, 12.4,
            11.9, 10.9, 9.6, 8.4, 7.4, 6.7, 6.4, 6.1, 5.9, 5.9,
            6.1, 6.6, 7.4, 8.4, 9.7, 10.9, 11.7, 12.4, 12.9, 12.9,
            12.5, 12.0, 11.6, 11.4, 11.1, 11.0, 10.8, 10.5, 10.1, 9.6,
            8.9, 8.1, 7.2, 6.4, 5.7, 5.1, 4.6, 4.2, 3.9, 3.6,
            3.4, 3.2, 3.1, 3.0, 2.9]
ta10_les = [3.2, 3.3, 3.4, 3.8, 4.8, 6.0, 7.3, 8.3, 8.8, 9.2, 9.3, 9.6, 10.0, 8.5, 7.2, 6.5, 6.3,
            6.6, 7.5, 8.8, 9.5, 9.0, 8.7, 8.7, 8.5, 8.0, 7.0, 6.0, 5.0, 4.0, 3.6, 3.4, 3.4]
ta10_sas = [3.3, 3.4, 3.5, 4.0, 5.5, 6.5, 7.5, 8.5, 9.0, 9.3, 9.5, 9.8, 10.0, 8.5, 7.0, 6.3, 6.0,
            6.3, 7.2, 8.5, 9.5, 9.2, 9.0, 8.8, 8.6, 8.2, 7.2, 6.2, 5.2, 4.0, 3.5, 3.4, 3.3]
ta10_des = [3.1, 3.1, 3.2, 3.3, 4.3, 5.5, 7.0, 8.0, 8.5, 9.0, 9.0, 9.5, 10.2, 8.8, 7.2, 6.5, 6.5,
            6.8, 7.8, 9.0, 10.0, 9.3, 8.8, 8.6, 8.5, 8.0, 6.8, 5.5, 4.5, 3.6, 3.3, 3.2, 3.0]
ta10_sst = [1.4, 1.5, 1.6, 1.8, 3.0, 4.3, 5.5, 6.0, 6.3, 6.8, 6.7, 5.5, 4.5, 4.0, 3.2, 2.2, 1.6,
            2.0, 2.8, 3.5, 4.2, 4.6, 5.8, 6.8, 6.9, 6.5, 6.1, 5.2, 4.0, 2.1, 1.9, 1.8, 1.8]

ta20_exp_x = np.arange(-38, 36)
ta20_exp = [3.3, 4.0, 4.5, 4.8, 5.4, 5.7, 6.0, 6.6, 6.9, 7.3,
            7.8, 8.2, 8.7, 9.2, 9.5, 9.9, 10.2, 10.4, 10.5, 10.7,
            10.9, 11.1, 11.2, 11.4, 11.6, 11.9, 12.1, 12.2, 12.2, 12.3,
            12.3, 12.0, 11.6, 10.9, 10.2, 9.5, 9.1, 8.8, 8.7, 8.9,
            9.3, 9.9, 10.4, 11.1, 11.8, 12.3, 12.4, 12.6, 12.5, 12.3,
            12.1, 11.8, 11.7, 11.6, 11.5, 11.3, 11.2, 11.1, 10.9, 10.6,
            10.4, 10.0, 9.5, 9.0, 8.4, 7.8, 7.3, 6.6, 6.0, 5.5,
            5.0, 4.5, 4.0, 3.6]
ta20_les = [4.5, 5.0, 6.0, 6.8, 7.8, 8.3, 8.5, 8.7, 8.9, 9.1, 9.3, 9.3, 8.5, 7.3, 6.3, 5.5, 5.5,
            5.5, 6.5, 8.0, 9.3, 9.2, 9.0, 8.8, 8.3, 8.0, 7.8, 7.5, 7.0, 6.0, 5.2, 4.8, 4.2]
ta20_sas = [4.5, 4.8, 5.5, 6.5, 7.8, 8.3, 8.6, 8.9, 9.0, 8.8, 8.6, 8.5, 8.0, 7.0, 6.3, 5.8, 5.8,
            5.8, 6.5, 7.8, 8.8, 8.9, 8.8, 8.5, 8.2, 8.0, 7.9, 7.7, 7.3, 6.3, 5.5, 5.3, 4.3]
ta20_des = [4.0, 4.5, 5.2, 5.8, 7.3, 7.8, 8.0, 8.4, 8.8, 9.0, 9.1, 9.2, 8.5, 7.3, 6.3, 5.8, 5.8,
            5.8, 6.8, 8.0, 9.0, 9.0, 8.8, 8.6, 8.0, 7.7, 7.6, 7.3, 6.8, 5.7, 5.0, 4.5, 4.2]
ta20_sst = [2.2, 2.2, 2.5, 3.0, 4.0, 4.3, 4.5, 4.3, 4.2, 4.2, 4.1, 3.9, 3.6, 3.1, 2.7, 2.3, 2.1,
            2.2, 2.6, 3.0, 3.3, 3.6, 4.0, 4.2, 4.3, 4.4, 4.5, 4.5, 4.6, 3.8, 2.0, 2.0, 2.1]

ta90_exp_x = np.arange(-33, 37)
ta90_exp = [3.0, 2.0, 3.0, 1.9, 3.0, 2.0, 2.9, 1.9, 3.0, 2.0,
            2.9, 1.9, 3.0, 2.0, 3.0, 1.9, 2.9, 2.0, 3.0, 2.0,
            2.9, 2.0, 3.0, 2.1, 2.7, 3.0, 3.4, 3.9, 4.5, 5.2,
            5.9, 6.5, 7.0, 7.3, 7.4, 7.2, 6.8, 6.2, 5.5, 4.8,
            4.2, 3.7, 3.3, 3.0, 2.1, 2.9, 2.0, 3.0, 1.9, 2.9,
            2.0, 3.0, 1.9, 2.9, 2.0, 3.0, 2.0, 2.9, 1.9, 3.0,
            2.0, 3.0, 2.0, 3.0, 2.1, 3.0, 2.2, 3.1, 2.3, 3.1]
ta90_les = [2.6, 2.6, 2.6, 2.6, 2.6, 2.6, 2.6, 2.7, 2.8, 3.0, 3.2, 3.4, 3.6, 3.8, 4.0, 4.1, 4.1,
            4.1, 4.0, 3.8, 3.6, 3.4, 3.2, 3.0, 2.9, 2.8, 2.7, 2.6, 2.6, 2.6, 2.6, 2.6, 2.6]
ta90_sas = [2.6, 2.6, 2.6, 2.6, 2.7, 2.7, 2.8, 3.0, 3.3, 3.6, 4.0, 4.4, 4.8, 5.0, 5.2, 5.3, 5.3,
            5.3, 5.2, 5.0, 4.7, 4.3, 3.9, 3.6, 3.3, 3.1, 3.0, 2.9, 2.8, 2.7, 2.7, 2.7, 2.7]
ta90_des = [2.5, 2.5, 2.5, 2.5, 2.5, 2.5, 2.6, 2.6, 2.7, 2.9, 3.1, 3.3, 3.6, 3.9, 4.1, 4.3, 4.3,
            4.3, 4.1, 3.9, 3.6, 3.3, 3.1, 2.9, 2.8, 2.7, 2.6, 2.6, 2.5, 2.5, 2.5, 2.5, 2.5]
ta90_sst = [1.8, 1.8, 1.8, 1.8, 1.8, 1.8, 1.8, 1.8, 1.8, 1.8, 1.8, 1.8, 1.5, 1.1, 0.7, 0.4, 0.3,
            0.4, 0.7, 1.1, 1.5, 1.8, 1.8, 1.8, 1.8, 1.8, 1.8, 1.8, 1.8, 1.8, 1.8, 1.8, 1.8]

heights = ['h=2.5mm', 'h=5mm', 'h=10mm', 'h=20mm', 'h=90mm']
models = ['Exp', 'LES', 'SAS', 'DES', 'SST']
colors = ['red', 'blue', '#00ff00', 'black', 'magenta']

columns = [
    ('RMS Axial Velocity (m/s)', [
        (ax25_exp_x, ax25_exp, ax25_les, ax25_sas, ax25_des, ax25_sst),
        (ax5_exp_x, ax5_exp, ax5_les, ax5_sas, ax5_des, ax5_sst),
        (ax10_exp_x, ax10_exp, ax10_les, ax10_sas, ax10_des, ax10_sst),
        (ax20_exp_x, ax20_exp, ax20_les, ax20_sas, ax20_des, ax20_sst),
        (ax90_exp_x, ax90_exp, ax90_les, ax90_sas, ax90_des, ax90_sst)]),
    ('RMS Radial Velocity (m/s)', [
        (ra25_exp_x, ra25_exp, ra25_les, ra25_sas, ra25_des, ra25_sst),
        (ra5_exp_x, ra5_exp, ra5_les, ra5_sas, ra5_des, ra5_sst),
        (ra10_exp_x, ra10_exp, ra10_les, ra10_sas, ra10_des, ra10_sst),
        (ra20_exp_x, ra20_exp, ra20_les, ra20_sas, ra20_des, ra20_sst),
        (ra90_exp_x, ra90_exp, ra90_les, ra90_sas, ra90_des, ra90_sst)]),
    ('RMS Tangential Velocity (m/s)', [
        (ta25_exp_x, ta25_exp, ta25_les, ta25_sas, ta25_des, ta25_sst),
        (ta5_exp_x, ta5_exp, ta5_les, ta5_sas, ta5_des, ta5_sst),
        (ta10_exp_x, ta10_exp, ta10_les, ta10_sas, ta10_des, ta10_sst),
        (ta20_exp_x, ta20_exp, ta20_les, ta20_sas, ta20_des, ta20_sst),
        (ta90_exp_x, ta90_exp, ta90_les, ta90_sas, ta90_des, ta90_sst)]),
]

# layout in output pixels (three stitched figures, each slightly offset)
W, H = 3287, 1993
col_lr = [(105, 1023), (1220, 2138), (2331, 3253)]
col_rows = [
    [(63, 350), (463, 750), (866, 1151), (1266, 1553), (1667, 1799)],
    [(27, 319), (434, 727), (843, 1136), (1251, 1545), (1660, 1794)],
    [(38, 329), (444, 736), (853, 1145), (1260, 1553), (1671, 1805)],
]
ylab_pos = [(31, 1010), (1149, 990), (2260, 1017)]
xlab_pos = [(564, 1866), (1698, 1866), (2794, 1872)]
leg_box = [(111, 1901, 1016, 1956), (1222, 1903, 2134, 1954), (2329, 1910, 3251, 1964)]

LW = 2.6
MS = 14


def fig_rect(l, t, r, b):
    return [l / W, 1 - b / H, (r - l) / W, (b - t) / H]


fig = plt.figure(figsize=(W / 100, H / 100), dpi=100)

for c, (ylabel, panels) in enumerate(columns):
    left, right = col_lr[c]
    for r, (ex, ey, les, sas, des, sst) in enumerate(panels):
        top, bot = col_rows[c][r]
        ax = fig.add_axes(fig_rect(left, top, right, bot))
        ax.plot(ex, ey, ls='none', marker='o', mfc='none', mec='red', ms=MS, mew=2.0, zorder=3)
        for yy, col in zip([les, sas, des, sst], colors[1:]):
            ax.plot(x_sim, yy, color=col, lw=LW, zorder=4)
        ax.set_xlim(-40, 40)
        ax.set_ylim(0, 30)
        ax.set_xticks(range(-40, 41, 10))
        ax.set_yticks([0, 15, 30])
        ax.grid(True, color='#dedede', lw=1.3)
        ax.set_axisbelow(True)
        ax.tick_params(direction='in', top=True, right=True, length=7, width=1.5,
                       labelsize=23, labelcolor='#262626')
        ax.tick_params(axis='x', pad=12)
        ax.tick_params(axis='y', pad=6)
        for s in ax.spines.values():
            s.set_linewidth(2.0)
            s.set_color('#1a1a1a')
        ax.text(-34, 25, heights[r], style='italic', fontsize=24, va='center', color='#111111')

    fig.text(ylab_pos[c][0] / W, 1 - ylab_pos[c][1] / H, ylabel, rotation=90,
             ha='center', va='center', family=SERIF, fontsize=26, color='#222222')
    fig.text(xlab_pos[c][0] / W, 1 - xlab_pos[c][1] / H, 'Distance (mm)',
             ha='center', va='center', family=SERIF, fontsize=23, color='#222222')

    handles = [Line2D([], [], ls='none', marker='o', mfc='none', mec='red', ms=MS, mew=2.0)]
    handles += [Line2D([], [], color=col, lw=LW) for col in colors[1:]]
    l, t, rr, b = leg_box[c]
    leg = fig.legend(handles, models, loc='center', bbox_to_anchor=fig_rect(l, t, rr, b),
                     mode='expand', ncol=5, fontsize=25, frameon=True, fancybox=False,
                     edgecolor='black', framealpha=1, borderaxespad=0, handlelength=2.7,
                     handletextpad=0.3, columnspacing=0.7, borderpad=0.3)
    leg.get_frame().set_linewidth(1.8)

fig.savefig('out.png', dpi=100)
